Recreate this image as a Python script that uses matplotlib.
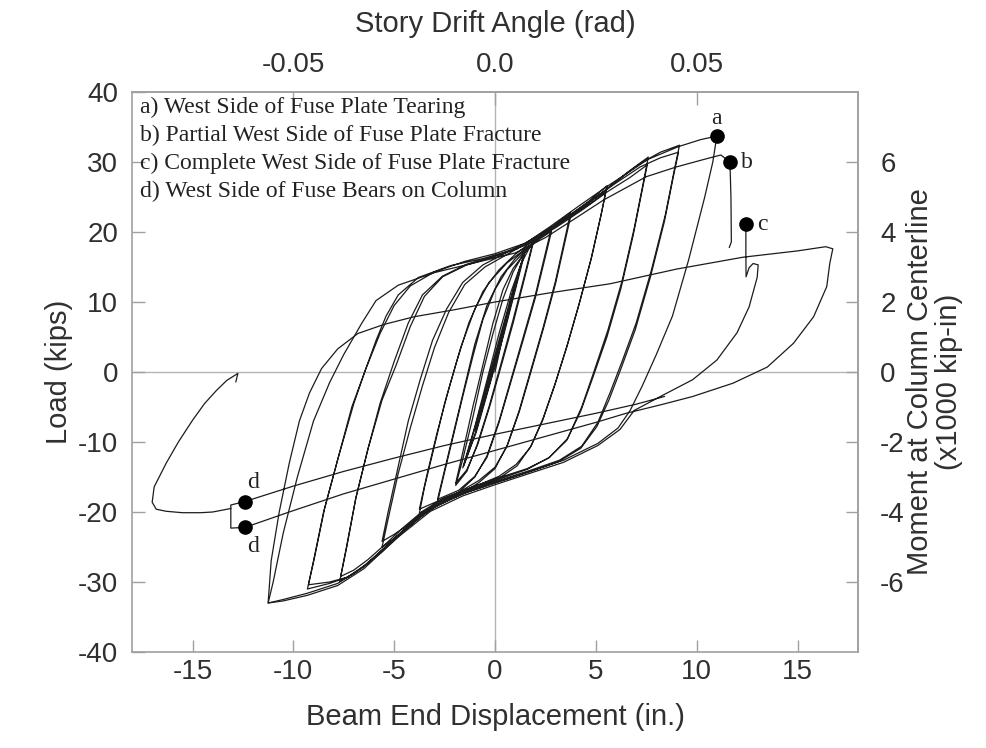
import numpy as np
import matplotlib
matplotlib.use('Agg')
import matplotlib.pyplot as plt

plt.rcParams['font.family'] = ['Liberation Sans', 'DejaVu Sans']
plt.rcParams['axes.unicode_minus'] = False

# ---- data: (beam end displacement in., load kips) ----
# small elastic cycles (0.375 % .. 0.75 % drift)
el_small = [(0.0, 0.0), (0.35, 4.6), (0.70, 9.2), (0.35, 5.2), (-0.15, 0.3), (-0.75, -5.5),
            (-0.35, -1.6), (0.15, 3.6), (0.72, 9.4), (0.37, 5.3), (-0.13, 0.4), (-0.74, -5.4),
            (-0.34, -1.5), (0.16, 3.7)]
el_mid = [(0.95, 11.8), (0.50, 6.7), (-0.10, 0.3), (-1.00, -8.2), (-0.50, -3.2), (0.20, 3.8),
          (0.97, 12.0), (0.52, 6.9), (-0.08, 0.4), (-1.02, -8.4), (-0.52, -3.3), (0.18, 3.7)]
el_big = [(0.90, 11.6), (1.45, 17.0), (1.00, 12.0), (0.40, 5.3), (-0.25, -1.5), (-0.95, -8.5),
          (-1.55, -13.4), (-1.00, -8.0), (-0.40, -1.8), (0.30, 5.6), (0.90, 11.7), (1.50, 17.3),
          (1.05, 12.2), (0.45, 5.5), (-0.22, -1.4), (-0.93, -8.6), (-1.60, -13.7)]

# 1 % drift cycles
d010 = [(-1.0, -7.8), (-0.4, -1.2), (0.2, 5.5), (0.8, 11.5), (1.3, 15.5), (1.9, 18.8),
        (1.5, 14.2), (0.9, 7.5), (0.3, 1.2), (-0.3, -5.0), (-0.9, -10.5), (-1.4, -14.2), (-1.95, -16.2),
        (-1.6, -12.5), (-1.1, -6.5), (-0.6, 0.0), (-0.1, 5.5), (0.4, 10.5), (0.9, 14.3), (1.4, 16.8), (1.9, 18.5),
        (1.5, 13.8), (0.9, 7.0), (0.35, 1.3), (-0.25, -4.8), (-0.85, -10.3), (-1.4, -14.0), (-1.95, -15.9)]

# 1.5 % drift cycles
d015 = [(-1.6, -11.5), (-1.1, -5.0), (-0.6, 1.0), (-0.1, 7.0), (0.4, 11.8), (0.9, 14.8), (1.6, 17.5),
        (2.2, 19.2), (2.8, 20.6),
        (2.5, 17.0), (2.0, 11.0), (1.4, 5.0), (0.8, -1.0), (0.2, -7.0), (-0.4, -12.0), (-1.0, -15.0),
        (-1.8, -17.2), (-2.85, -18.6),
        (-2.6, -15.5), (-2.1, -9.5), (-1.6, -3.5), (-1.1, 2.2), (-0.6, 7.5), (0.0, 11.8), (0.6, 14.6),
        (1.4, 17.0), (2.1, 18.8), (2.8, 20.1),
        (2.5, 16.5), (2.0, 10.6), (1.4, 4.6), (0.8, -1.3), (0.2, -7.2), (-0.4, -12.2), (-1.0, -14.9),
        (-1.8, -16.9), (-2.85, -18.2)]

# 2 % drift cycles
d020 = [(-2.5, -14.0), (-2.0, -8.0), (-1.5, -2.0), (-1.0, 4.0), (-0.4, 9.5), (0.3, 13.6), (1.0, 16.2),
        (1.8, 18.3), (2.7, 20.4), (3.75, 22.8),
        (3.5, 19.5), (3.0, 13.0), (2.4, 6.5), (1.8, 0.5), (1.2, -5.5), (0.6, -10.5), (0.0, -13.8),
        (-0.8, -15.8), (-1.8, -17.6), (-2.8, -18.9), (-3.75, -20.2),
        (-3.5, -16.5), (-3.0, -10.5), (-2.5, -4.5), (-1.9, 1.5), (-1.3, 7.0), (-0.6, 11.5), (0.2, 14.6),
        (1.0, 16.8), (1.9, 18.8), (2.8, 20.6), (3.75, 22.2),
        (3.5, 19.0), (3.0, 12.6), (2.4, 6.2), (1.8, 0.2), (1.2, -5.7), (0.6, -10.6), (0.0, -13.6),
        (-0.8, -15.5), (-1.8, -17.2), (-2.8, -18.4), (-3.75, -19.6)]

# 3 % drift cycles
d030 = [(-3.4, -15.0), (-2.9, -9.0), (-2.3, -2.5), (-1.7, 3.5), (-1.0, 9.0), (-0.3, 12.8), (0.6, 15.6),
        (1.6, 17.8), (2.7, 20.2), (3.8, 22.6), (4.7, 24.5), (5.55, 26.6),
        (5.3, 23.0), (4.8, 16.5), (4.2, 10.0), (3.6, 4.0), (3.0, -1.5), (2.4, -6.5), (1.8, -10.5),
        (1.1, -13.4), (0.2, -15.2), (-0.8, -16.4), (-1.8, -17.6), (-2.8, -19.0), (-3.6, -20.5),
        (-4.3, -22.2), (-5.0, -23.8), (-5.6, -25.0),
        (-5.3, -21.0), (-4.8, -14.5), (-4.2, -8.0), (-3.6, -2.0), (-3.0, 3.5), (-2.3, 8.5), (-1.5, 12.5),
        (-0.5, 15.0), (0.6, 16.8), (1.7, 18.6), (2.8, 20.6), (3.9, 22.5), (4.8, 24.2), (5.5, 25.8),
        (5.25, 22.3), (4.75, 16.0), (4.15, 9.5), (3.55, 3.5), (2.95, -2.0), (2.35, -7.0), (1.75, -10.8),
        (1.05, -13.2), (0.2, -14.9), (-0.8, -16.1), (-1.8, -17.3), (-2.8, -18.7), (-3.6, -20.2),
        (-4.3, -21.8), (-5.0, -23.2), (-5.6, -24.2)]

# 4 % drift cycles
d040 = [(-5.3, -20.0), (-4.8, -13.5), (-4.3, -7.0), (-3.7, -1.0), (-3.1, 4.5), (-2.4, 9.0), (-1.6, 12.8),
        (-0.6, 15.3), (0.6, 17.1), (1.7, 18.7), (3.0, 21.0), (4.2, 23.3), (5.5, 26.0), (6.6, 28.6),
        (7.6, 30.7),
        (7.35, 27.0), (6.9, 20.5), (6.3, 13.0), (5.6, 6.0), (4.9, 0.0), (4.3, -5.0), (3.6, -9.5),
        (2.7, -12.2), (1.6, -13.9), (0.2, -15.3), (-1.2, -16.7), (-2.6, -18.4), (-3.6, -20.3),
        (-4.5, -22.6), (-5.4, -25.0), (-6.3, -27.3), (-7.0, -28.8), (-7.7, -29.9),
        (-7.4, -25.5), (-6.9, -18.0), (-6.3, -11.0), (-5.6, -4.0), (-4.9, 1.0), (-4.2, 6.5), (-3.5, 10.8),
        (-2.6, 13.6), (-1.4, 15.3), (0.0, 16.5), (1.5, 18.1), (3.0, 20.6), (4.3, 23.1), (5.6, 25.8),
        (6.7, 27.8), (7.55, 29.6),
        (7.3, 26.0), (6.85, 19.5), (6.25, 12.0), (5.55, 5.0), (4.85, -0.8), (4.25, -5.6), (3.55, -9.8),
        (2.65, -12.3), (1.6, -13.8), (0.2, -15.1), (-1.2, -16.5), (-2.6, -18.1), (-3.6, -19.9),
        (-4.5, -22.1), (-5.4, -24.5), (-6.3, -26.8), (-7.0, -28.3), (-7.65, -29.2)]

# 5 % drift cycles
d050 = [(-7.35, -25.0), (-6.9, -18.0), (-6.3, -11.0), (-5.7, -4.5), (-5.0, 1.5), (-4.3, 7.0), (-3.6, 11.0),
        (-2.6, 13.7), (-1.4, 15.4), (0.0, 16.6), (1.5, 18.2), (3.0, 20.8), (4.5, 23.8), (6.0, 27.2),
        (7.2, 29.8), (8.2, 31.4), (9.15, 32.4),
        (8.9, 29.0), (8.45, 22.5), (7.75, 14.5), (7.0, 7.0), (6.3, 1.5), (5.7, -3.0), (5.1, -7.2),
        (4.3, -10.6), (3.2, -12.6), (1.8, -14.0), (0.3, -15.4), (-1.3, -16.9), (-2.8, -18.6),
        (-3.8, -20.6), (-4.7, -23.0), (-5.6, -25.5), (-6.5, -27.7), (-7.3, -29.3), (-8.2, -30.2),
        (-9.3, -31.0),
        (-9.0, -27.0), (-8.5, -20.0), (-7.8, -12.5), (-7.1, -5.0), (-6.4, 0.5), (-5.7, 5.5), (-5.0, 9.5),
        (-4.2, 12.3), (-3.0, 14.3), (-1.5, 15.8), (0.0, 16.9), (1.5, 18.4), (3.0, 21.0), (4.5, 24.0),
        (6.0, 27.0), (7.2, 29.3), (8.2, 30.6), (9.1, 31.4),
        (8.85, 28.0), (8.4, 21.5), (7.7, 13.5), (6.95, 6.0), (6.25, 0.5), (5.65, -4.0), (5.05, -7.8),
        (4.25, -10.9), (3.15, -12.8), (1.8, -14.2), (0.3, -15.6), (-1.3, -17.1), (-2.8, -18.9),
        (-3.8, -20.9), (-4.7, -23.3), (-5.6, -25.7), (-6.5, -27.8), (-7.3, -29.3), (-8.2, -30.0),
        (-9.25, -30.4)]

# 6 % drift: up to tearing (a), back to -11.25 in., up again to partial fracture (b)
d060 = [(-8.95, -26.5), (-8.45, -19.5), (-7.75, -12.0), (-7.0, -4.5), (-6.4, 0.5), (-5.9, 4.5),
        (-5.4, 8.0), (-4.8, 11.0), (-3.8, 13.5), (-2.2, 15.2), (-0.6, 16.2), (1.1, 17.6), (2.7, 20.7),
        (4.2, 23.8), (5.5, 26.4), (7.6, 30.4), (9.1, 32.2), (10.2, 33.2), (11.0, 33.7),
        (10.8, 30.0), (10.4, 25.0), (9.6, 16.0), (8.8, 8.0), (8.0, 2.5), (7.3, -2.0), (6.7, -5.5),
        (6.1, -8.0), (5.1, -10.2), (3.4, -12.6), (1.7, -14.2), (0.0, -15.8), (-1.6, -17.4),
        (-3.2, -19.6), (-4.9, -23.5), (-6.5, -27.8), (-7.8, -30.2), (-9.3, -31.6), (-10.5, -32.5),
        (-11.25, -33.0),
        (-11.0, -30.0), (-10.5, -23.0), (-9.8, -15.0), (-9.0, -7.0), (-8.2, -1.5), (-7.5, 2.5),
        (-6.6, 7.0), (-5.9, 10.2), (-4.8, 12.4), (-3.0, 14.2), (-1.0, 15.6), (1.0, 17.0), (2.5, 19.2),
        (3.8, 21.6), (5.4, 24.6), (7.5, 27.9), (9.0, 29.3), (10.4, 30.4), (11.2, 31.0), (11.65, 30.0),
        (11.7, 25.0), (11.72, 18.6), (11.62, 17.8)]

# after complete fracture (c): unloading, big push to 16.7 in., bearing on column (d)
post = [(12.44, 21.1), (12.44, 17.0), (12.45, 13.6), (12.6, 14.9), (12.8, 15.5), (13.05, 15.3),
        (13.0, 13.5), (12.6, 9.3), (12.0, 5.6), (11.0, 1.7), (9.8, -1.1), (8.2, -3.5), (6.9, -5.5),
        (6.2, -8.2), (5.1, -10.5), (3.4, -12.9), (1.7, -14.5), (0.0, -16.1), (-1.6, -17.7),
        (-3.2, -19.9), (-4.9, -23.8), (-6.5, -28.1), (-7.8, -30.5), (-9.3, -31.9), (-10.5, -32.7),
        (-11.25, -33.0),
        (-11.1, -27.0), (-10.7, -20.0), (-10.2, -13.0), (-9.7, -7.0), (-9.2, -3.0), (-8.6, 0.5),
        (-7.8, 3.3), (-6.8, 5.5), (-5.5, 6.8), (-4.0, 7.9), (-2.0, 8.9), (0.0, 10.0), (2.7, 11.3),
        (5.7, 12.6), (9.0, 14.7), (12.3, 16.4), (15.0, 17.3), (16.4, 17.9), (16.75, 17.6),
        (16.6, 15.5), (16.45, 12.2), (15.8, 7.9), (14.8, 4.1), (13.5, 0.7), (11.8, -1.6),
        (9.8, -3.5), (8.2, -4.7), (6.5, -5.9),
        (5.0, -7.2), (2.5, -9.2), (0.0, -11.2), (-2.5, -13.2), (-5.0, -15.3), (-7.5, -17.4),
        (-10.0, -19.8), (-12.4, -22.2), (-13.1, -22.3), (-13.1, -19.0), (-12.4, -18.5),
        (-10.0, -16.3), (-7.5, -14.2), (-5.0, -12.3), (-2.5, -10.5), (0.0, -8.9), (2.5, -7.4),
        (5.0, -5.9), (7.0, -4.6), (8.4, -3.5)]

# final excursion to the left
last = [(-13.1, -19.5), (-14.0, -20.0), (-14.6, -20.1), (-15.5, -20.1), (-16.3, -19.9), (-16.8, -19.6),
        (-17.0, -18.6), (-16.9, -16.4), (-16.3, -13.0), (-15.7, -10.0), (-15.0, -6.9), (-14.4, -4.5),
        (-13.8, -2.6), (-13.3, -1.2), (-12.75, -0.2), (-12.85, -1.4)]

# marked events
event_x = [11.0, 11.65, 12.44, -12.4, -12.4]
event_y = [33.7, 30.0, 21.1, -18.5, -22.2]
event_lbl = ['a', 'b', 'c', 'd', 'd']

notes = ['a) West Side of Fuse Plate Tearing',
         'b) Partial West Side of Fuse Plate Fracture',
         'c) Complete West Side of Fuse Plate Fracture',
         'd) West Side of Fuse Bears on Column']

x_ticks = [-15, -10, -5, 0, 5, 10, 15]
y_ticks = [-40, -30, -20, -10, 0, 10, 20, 30, 40]
drift_ticks = [-0.05, 0.0, 0.05]
drift_lbls = ['-0.05', '0.0', '0.05']
moment_ticks = [-6, -4, -2, 0, 2, 4, 6]

ARM = 200.0          # in., beam end to column centerline
MOM = ARM / 1000.0   # kips -> x1000 kip-in

fig = plt.figure(figsize=(9.87, 7.48), dpi=100)
ax = fig.add_axes([132 / 987, 96 / 748, 726 / 987, 560 / 748])

ax.axhline(0, color='#b4b4b4', lw=1.0, zorder=0)
ax.axvline(0, color='#b4b4b4', lw=1.0, zorder=0)

main = el_small + el_mid + el_big + d010 + d015 + d020 + d030 + d040 + d050 + d060
for seg in (main, post, last):
    xy = np.array(seg)
    ax.plot(xy[:, 0], xy[:, 1], color='#1c1c1c', lw=0.9, zorder=2)

ax.plot(event_x, event_y, 'o', color='black', ms=9.5, zorder=3)
offsets = [(0, 13), (12, 0), (12, 0), (6, 14), (6, -14)]
for x, y, s, off in zip(event_x, event_y, event_lbl, offsets):
    ax.annotate(s, (x, y), xytext=off, textcoords='offset points', ha='center', va='center',
                family='Liberation Serif', fontsize=17, color='#222222')

for i, s in enumerate(notes):
    ax.text(0.011, 0.973 - i * 0.05, s, transform=ax.transAxes, ha='left', va='center',
            family='Liberation Serif', fontsize=17, color='#222222')

ax.set_xlim(-18, 18)
ax.set_ylim(-40, 40)
ax.set_xticks(x_ticks)
ax.set_yticks(y_ticks)

spine_c = '#a0a0a0'
for sp in ax.spines.values():
    sp.set_color(spine_c)
    sp.set_linewidth(1.2)
ax.tick_params(direction='in', length=9, width=1.0, color=spine_c, labelsize=20,
               labelcolor='#303030', top=False, right=False)
ax.tick_params(axis='x', pad=5)
ax.tick_params(axis='y', pad=10)

top = ax.secondary_xaxis('top', functions=(lambda d: d / ARM, lambda r: r * ARM))
top.set_xticks(drift_ticks)
top.set_xticklabels(drift_lbls)
top.tick_params(direction='in', length=9, width=1.0, color=spine_c, labelsize=20,
                labelcolor='#303030', pad=10)
top.spines['top'].set_color(spine_c)
top.spines['top'].set_linewidth(1.2)

right = ax.secondary_yaxis('right', functions=(lambda p: p * MOM, lambda m: m / MOM))
right.set_yticks(moment_ticks)
right.tick_params(direction='in', length=9, width=1.0, color=spine_c, labelsize=20,
                  labelcolor='#303030', pad=16)
right.spines['right'].set_color(spine_c)
right.spines['right'].set_linewidth(1.2)

fig.text(0.5015, 0.042, 'Beam End Displacement (in.)', ha='center', va='center',
         fontsize=21, color='#303030')
fig.text(0.5015, 0.968, 'Story Drift Angle (rad)', ha='center', va='center',
         fontsize=21, color='#303030')
fig.text(0.060, 0.503, 'Load (kips)', ha='center', va='center', rotation=90,
         fontsize=21, color='#303030')
fig.text(0.947, 0.49, 'Moment at Column Centerline\n(x1000 kip-in)', ha='center', va='center',
         rotation=90, multialignment='center', linespacing=1.05, fontsize=21, color='#303030')

fig.savefig('out.png', dpi=100)
